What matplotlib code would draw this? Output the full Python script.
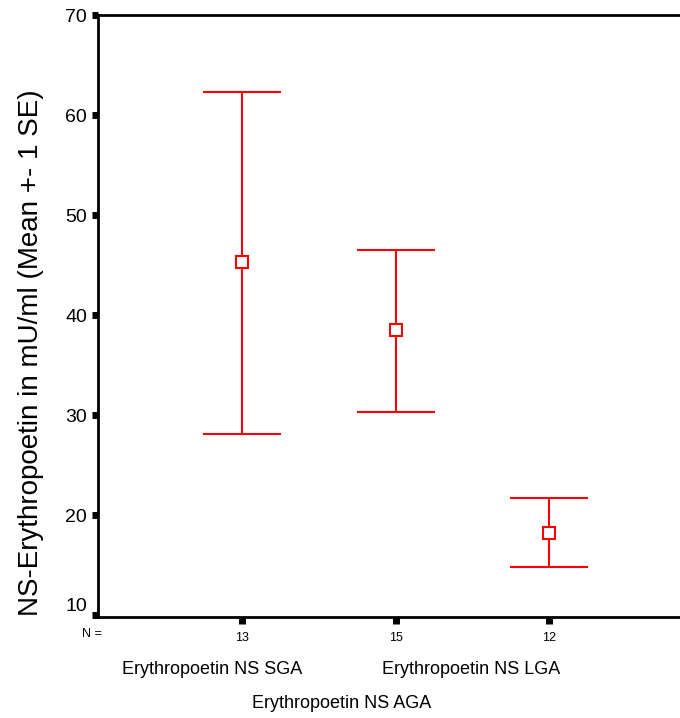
import numpy as np
import matplotlib
matplotlib.use('Agg')
import matplotlib.pyplot as plt

plt.rcParams['font.family'] = ['Liberation Sans', 'DejaVu Sans']

# group data
groups = ['Erythropoetin NS SGA', 'Erythropoetin NS AGA', 'Erythropoetin NS LGA']
n_values = [13, 15, 12]
means = [45.3, 38.5, 18.2]
upper = [62.3, 46.5, 21.7]
lower = [28.1, 30.3, 14.8]
y_ticks = [10, 20, 30, 40, 50, 60, 70]

x = np.arange(1, len(groups) + 1)
means = np.array(means)
err = [means - np.array(lower), np.array(upper) - means]

fig = plt.figure(figsize=(6.8, 7.18), dpi=100)
ax = fig.add_axes([98 / 680, 1 - 617 / 718, 1 - 98 / 680, (617 - 15) / 718])

red = '#ff0000'
ax.errorbar(x, means, yerr=err, fmt='none', ecolor=red, elinewidth=1.5,
            capsize=28, capthick=1.5, zorder=2)
ax.plot(x, means, 's', ms=9, mfc='white', mec=red, mew=1.5, zorder=3)

ax.set_xlim(0.062, 3.853)
ax.set_ylim(9.8, 70)

for side in ['left', 'bottom', 'top']:
    ax.spines[side].set_linewidth(2)
ax.spines['right'].set_visible(False)

ax.set_yticks(y_ticks)
ax.set_yticklabels([str(v) for v in y_ticks], fontsize=14)
ax.tick_params(axis='y', direction='out', length=4, width=5, pad=4)
# lowest label sits just above its tick, as in the original
ax.get_yticklabels()[0].set_va('bottom')

# N counts as x tick labels
ax.set_xticks(x)
ax.set_xticklabels([str(n) for n in n_values], fontsize=9)
ax.tick_params(axis='x', direction='out', length=5, width=5, pad=6)

ax.text(-0.01, -0.028, 'N =', transform=ax.transAxes, fontsize=9,
        ha='center', va='center')

# staggered group labels
label_x = [0.805, 1.65, 2.49]
label_y = [-0.088, -0.143, -0.088]
for lx, ly, g in zip(label_x, label_y, groups):
    ax.text(lx, ly, g, transform=ax.get_xaxis_transform(), fontsize=13,
            ha='center', va='center')

ax.set_ylabel('NS-Erythropoetin in mU/ml (Mean +- 1 SE)', fontsize=20)
ax.yaxis.set_label_coords(-0.093, 0.4385)

plt.savefig('out.png', dpi=100)
